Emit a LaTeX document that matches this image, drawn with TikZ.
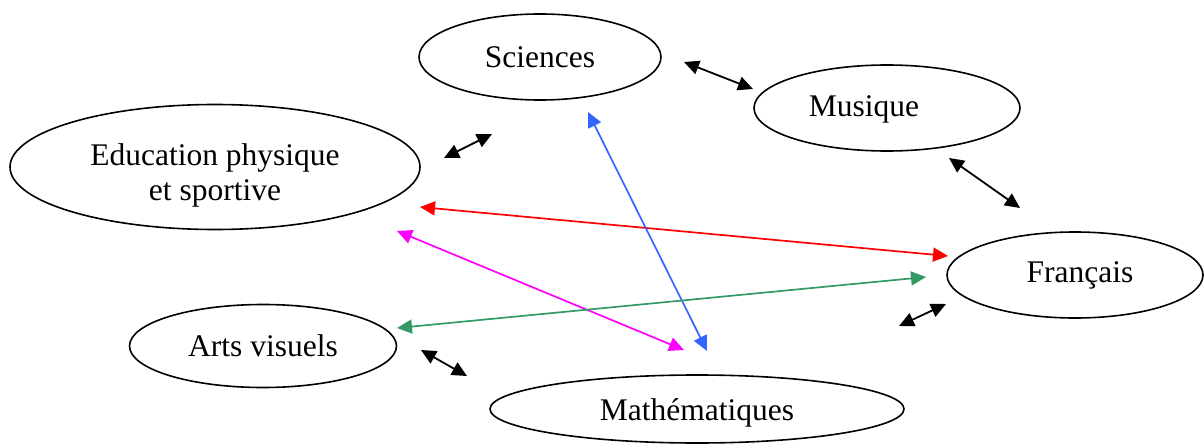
\documentclass[tikz,border=0pt]{standalone}
\usepackage{fontspec}
\setmainfont{Liberation Serif}
\usetikzlibrary{shapes.geometric,arrows.meta}
\definecolor{lkblue}{RGB}{51,102,255}
\definecolor{lkgreen}{RGB}{51,153,102}
\definecolor{lkred}{RGB}{255,0,0}
\definecolor{lkmag}{RGB}{255,0,255}
\begin{document}
\begin{tikzpicture}[x=1pt,y=-1pt,
  subj/.style={draw, ellipse, line width=1.6pt, inner sep=0pt},
  txt/.style={font=\fontsize{31.5}{35}\selectfont, align=center, inner sep=0pt},
  link/.style={line width=1.8pt, {Triangle[length=15pt,width=14pt]}-{Triangle[length=15pt,width=14pt]}},
  clink/.style={line width=1.7pt, {Triangle[length=15pt,width=14pt]}-{Triangle[length=15pt,width=14pt]}},
]
\useasboundingbox (0,0) rectangle (1204,444);

\node[subj, minimum width=242pt, minimum height=86pt,
  label={[txt]center:Sciences}] (sci) at (540,57) {};
\node[subj, minimum width=266pt, minimum height=86pt,
  label={[txt, xshift=-23pt, yshift=-1pt]center:Musique}] (mus) at (887,108) {};
\node[subj, minimum width=410pt, minimum height=125pt,
  label={[txt, yshift=-8pt]center:Education physique\\et sportive}] (eps) at (215,167) {};
\node[subj, minimum width=256pt, minimum height=86pt,
  label={[txt, xshift=5pt]center:Français}] (fra) at (1075,275) {};
\node[subj, minimum width=267pt, minimum height=83pt,
  label={[txt]center:Arts visuels}] (art) at (263,346) {};
\node[subj, minimum width=414pt, minimum height=68pt,
  label={[txt, yshift=-4pt]center:Mathématiques}] (mat) at (697,409) {};

% free arrow ends
\coordinate (smA) at (684,62);   \coordinate (smB) at (753,89);
\coordinate (esA) at (444,158);  \coordinate (esB) at (492,134);
\coordinate (mfA) at (949,158);  \coordinate (mfB) at (1020,208);
\coordinate (rdA) at (420,207);  \coordinate (rdB) at (948,256);
\coordinate (blA) at (588,112);  \coordinate (blB) at (707,351);
\coordinate (mgA) at (397,231);  \coordinate (mgB) at (684,350);
\coordinate (grA) at (397,328);  \coordinate (grB) at (926,277);
\coordinate (fmA) at (899,326);  \coordinate (fmB) at (946,304);
\coordinate (amA) at (421,350);  \coordinate (amB) at (467,376);

\draw[link] (smA) -- (smB);
\draw[link] (esA) -- (esB);
\draw[link] (mfA) -- (mfB);
\draw[link] (fmA) -- (fmB);
\draw[link] (amA) -- (amB);
\draw[clink, lkred] (rdA) -- (rdB);
\draw[clink, lkblue] (blA) -- (blB);
\draw[clink, lkmag] (mgA) -- (mgB);
\draw[clink, lkgreen] (grA) -- (grB);
\end{tikzpicture}
\end{document}
